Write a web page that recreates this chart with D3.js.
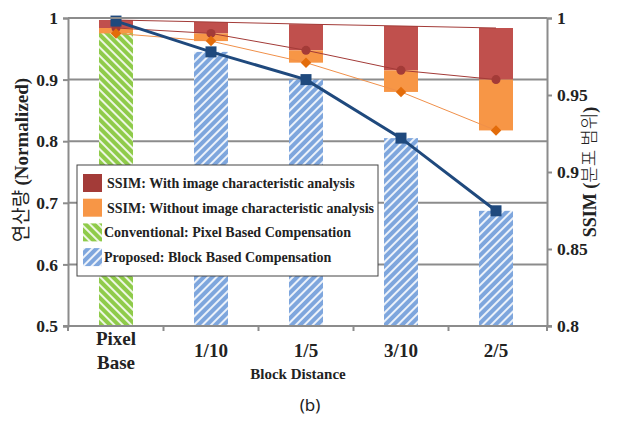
<!DOCTYPE html>
<html>
<head>
<meta charset="utf-8">
<script src="https://cdn.jsdelivr.net/npm/d3@7"></script>
<style>
  body { margin: 0; background: #fff; }
  svg { display: block; }
</style>
</head>
<body>
<svg id="chart" width="621" height="424"></svg>
<script>
// categories and values
const categories = ['Pixel Base', '1/10', '1/5', '3/10', '2/5'];
const computeLoad = [0.995, 0.945, 0.9, 0.805, 0.687];      // left axis, bars + navy line
const ssimTop = [0.9987, 0.9974, 0.996, 0.9948, 0.9935];     // right axis, top of red box
const ssimWith = [0.9935, 0.990, 0.979, 0.966, 0.960];       // circles
const ssimWithout = [0.990, 0.985, 0.971, 0.952, 0.927];     // diamonds
const leftTicks = [0.5, 0.6, 0.7, 0.8, 0.9, 1];
const rightTicks = [0.8, 0.85, 0.9, 0.95, 1];
const legendLabels = [
  ['SSIM:', ' With image characteristic analysis'],
  ['SSIM:', ' Without image characteristic analysis'],
  ['Conventional:', ' Pixel Based Compensation'],
  ['Proposed:', ' Block Based Compensation']
];

const svg = d3.select('#chart');
const serif = '"Liberation Serif", "Times New Roman", serif';
const kr = '"Noto Sans CJK KR", sans-serif';

const plot = { left: 68, right: 547, top: 18, bottom: 326 };
const x = d3.scalePoint().domain(categories).range([116, 496]);
const yL = d3.scaleLinear().domain([0.5, 1]).range([plot.bottom, plot.top]);
const yR = d3.scaleLinear().domain([0.8, 1]).range([plot.bottom, plot.top]);
const barW = 34;
const grey = '#8c8c8c';

// hatch patterns
const defs = svg.append('defs');
function hatch(id, color, flip) {
  const p = defs.append('pattern')
    .attr('id', id)
    .attr('patternUnits', 'userSpaceOnUse')
    .attr('width', 6).attr('height', 6)
    .attr('patternTransform', `rotate(${flip ? -45 : 45})`);
  p.append('rect').attr('width', 6).attr('height', 6).attr('fill', color);
  p.append('rect').attr('width', 2).attr('height', 6).attr('fill', '#fff').attr('opacity', 0.85);
}
hatch('blueHatch', '#7ea6dd', false);
hatch('greenHatch', '#8fcb4a', true);

// gridlines
svg.append('g')
  .selectAll('line')
  .data(leftTicks.filter(d => d > 0.5))
  .join('line')
  .attr('x1', plot.left).attr('x2', plot.right)
  .attr('y1', d => yL(d)).attr('y2', d => yL(d))
  .attr('stroke', grey).attr('stroke-width', 2);

// bars
svg.append('g')
  .selectAll('rect')
  .data(computeLoad)
  .join('rect')
  .attr('x', (d, i) => x(categories[i]) - barW / 2)
  .attr('width', barW)
  .attr('y', d => yL(d))
  .attr('height', d => yL(0.5) - yL(d))
  .attr('fill', (d, i) => i === 0 ? 'url(#greenHatch)' : 'url(#blueHatch)');

// SSIM boxes
svg.append('g')
  .selectAll('rect')
  .data(ssimTop)
  .join('rect')
  .attr('x', (d, i) => x(categories[i]) - barW / 2)
  .attr('width', barW)
  .attr('y', d => yR(d))
  .attr('height', (d, i) => yR(ssimWith[i]) - yR(d))
  .attr('fill', '#c0504d');

svg.append('g')
  .selectAll('rect')
  .data(ssimWith)
  .join('rect')
  .attr('x', (d, i) => x(categories[i]) - barW / 2)
  .attr('width', barW)
  .attr('y', d => yR(d))
  .attr('height', (d, i) => yR(ssimWithout[i]) - yR(d))
  .attr('fill', '#f79646');

// thin SSIM lines
const lineR = d3.line().x((d, i) => x(categories[i])).y(d => yR(d));
svg.append('path').datum(ssimTop).attr('d', lineR)
  .attr('fill', 'none').attr('stroke', '#a33b38').attr('stroke-width', 1);
svg.append('path').datum(ssimWith).attr('d', lineR)
  .attr('fill', 'none').attr('stroke', '#a33b38').attr('stroke-width', 1);
svg.append('path').datum(ssimWithout).attr('d', lineR)
  .attr('fill', 'none').attr('stroke', '#f0904a').attr('stroke-width', 1);

svg.append('g')
  .selectAll('circle')
  .data(ssimWith)
  .join('circle')
  .attr('cx', (d, i) => x(categories[i]))
  .attr('cy', d => yR(d))
  .attr('r', 4.5)
  .attr('fill', '#a33b38');

svg.append('g')
  .selectAll('path')
  .data(ssimWithout)
  .join('path')
  .attr('d', d3.symbol(d3.symbolDiamond2, 70))
  .attr('transform', (d, i) => `translate(${x(categories[i])},${yR(d)})`)
  .attr('fill', '#e36c0a');

// navy line with squares
const lineL = d3.line().x((d, i) => x(categories[i])).y(d => yL(d));
svg.append('path').datum(computeLoad).attr('d', lineL)
  .attr('fill', 'none').attr('stroke', '#1f497d').attr('stroke-width', 3);
svg.append('g')
  .selectAll('rect')
  .data(computeLoad)
  .join('rect')
  .attr('x', (d, i) => x(categories[i]) - 5.5)
  .attr('y', d => yL(d) - 5.5)
  .attr('width', 11).attr('height', 11)
  .attr('fill', '#1f497d');

// axes
const axL = svg.append('g')
  .attr('transform', `translate(${plot.left},0)`)
  .call(d3.axisLeft(yL).tickValues(leftTicks).tickSize(5).tickPadding(5).tickFormat(d3.format('')));
const axR = svg.append('g')
  .attr('transform', `translate(${plot.right},0)`)
  .call(d3.axisRight(yR).tickValues(rightTicks).tickSize(5).tickPadding(5).tickFormat(d3.format('')));
[axL, axR].forEach(ax => {
  ax.select('.domain').attr('stroke', grey).attr('stroke-width', 2);
  ax.selectAll('.tick line').attr('stroke', grey).attr('stroke-width', 2);
  ax.selectAll('.tick text')
    .attr('font-family', serif).attr('font-weight', 'bold')
    .attr('font-size', 17.5).attr('fill', '#222');
});

// top border and x axis
svg.append('line')
  .attr('x1', plot.left).attr('x2', plot.right)
  .attr('y1', plot.top).attr('y2', plot.top)
  .attr('stroke', grey).attr('stroke-width', 2);
svg.append('line')
  .attr('x1', plot.left - 5).attr('x2', plot.right + 5)
  .attr('y1', plot.bottom).attr('y2', plot.bottom)
  .attr('stroke', grey).attr('stroke-width', 2);
const step = x.step();
const xTickPos = [plot.left].concat(categories.slice(0, -1).map(c => x(c) + step / 2)).concat([plot.right]);
svg.append('g')
  .selectAll('line')
  .data(xTickPos)
  .join('line')
  .attr('x1', d => d).attr('x2', d => d)
  .attr('y1', plot.bottom).attr('y2', plot.bottom + 5)
  .attr('stroke', grey).attr('stroke-width', 2);

// x labels
const xl = svg.append('g')
  .attr('font-family', serif).attr('font-weight', 'bold')
  .attr('font-size', 19).attr('fill', '#222').attr('text-anchor', 'middle');
categories.forEach(c => {
  const t = xl.append('text').attr('x', x(c));
  if (c === 'Pixel Base') {
    t.append('tspan').attr('x', x(c)).attr('y', 345).text('Pixel');
    t.append('tspan').attr('x', x(c)).attr('y', 369).text('Base');
  } else {
    t.attr('y', 357).text(c);
  }
});

svg.append('text')
  .attr('x', 298).attr('y', 379)
  .attr('text-anchor', 'middle')
  .attr('font-family', serif).attr('font-weight', 'bold').attr('font-size', 15)
  .attr('fill', '#222')
  .text('Block Distance');

svg.append('text')
  .attr('x', 310).attr('y', 411)
  .attr('text-anchor', 'middle')
  .attr('font-family', '"Noto Sans", sans-serif').attr('font-size', 17)
  .attr('fill', '#222')
  .text('(b)');

// axis titles
const tl = svg.append('text')
  .attr('transform', 'translate(28,160) rotate(-90)')
  .attr('text-anchor', 'middle')
  .attr('font-size', 19).attr('fill', '#222');
tl.append('tspan').attr('font-family', kr).text('연산량 ');
tl.append('tspan').attr('font-family', serif).attr('font-weight', 'bold').text('(Normalized)');

const tr = svg.append('text')
  .attr('transform', 'translate(596,172) rotate(-90)')
  .attr('text-anchor', 'middle')
  .attr('font-size', 18).attr('fill', '#222');
tr.append('tspan').attr('font-family', serif).attr('font-weight', 'bold').text('SSIM (');
tr.append('tspan').attr('font-family', kr).attr('font-weight', 300).text('분포 범위');
tr.append('tspan').attr('font-family', serif).attr('font-weight', 'bold').text(')');

// legend
const lg = svg.append('g');
lg.append('rect')
  .attr('x', 77).attr('y', 165).attr('width', 301).attr('height', 111)
  .attr('fill', '#fff').attr('stroke', '#444').attr('stroke-width', 1);
const swatch = ['#a33b38', '#f79646', 'url(#greenHatch)', 'url(#blueHatch)'];
legendLabels.forEach((lab, i) => {
  const cy = 183 + i * 24.7;
  lg.append('rect')
    .attr('x', 83).attr('y', cy - 9).attr('width', 19).attr('height', 18)
    .attr('fill', swatch[i]);
  const t = lg.append('text')
    .attr('x', i < 2 ? 107 : 104).attr('y', cy + 5)
    .attr('font-family', serif).attr('font-weight', 'bold')
    .attr('font-size', 14).attr('fill', '#222');
  t.append('tspan').text(lab[0]);
  t.append('tspan').text(lab[1]);
});
</script>
</body>
</html>
